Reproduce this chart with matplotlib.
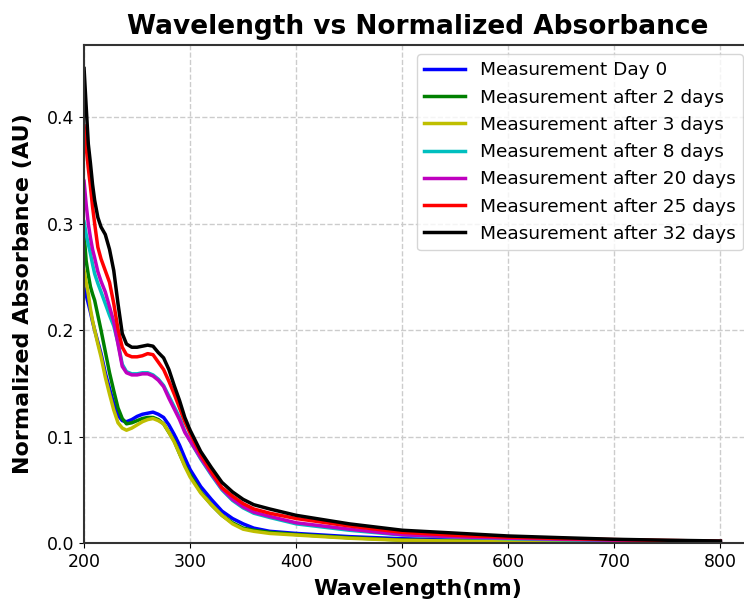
import matplotlib
import matplotlib.pyplot as plt

matplotlib.use("Agg")

wavelength = [200, 202, 204, 206, 208, 210, 213, 216, 220, 224, 228, 232, 236, 240,
              245, 250, 255, 260, 265, 270, 275, 280, 285, 290, 295, 300, 310, 320,
              330, 340, 350, 360, 375, 400, 450, 500, 550, 600, 650, 700, 750, 800]

day_0 = [0.240, 0.233, 0.225, 0.217, 0.208, 0.200, 0.189, 0.178, 0.160, 0.145, 0.131,
         0.120, 0.115, 0.114, 0.116, 0.119, 0.121, 0.122, 0.123, 0.121, 0.118, 0.111,
         0.102, 0.092, 0.080, 0.069, 0.053, 0.041, 0.030, 0.023, 0.018, 0.014, 0.011,
         0.009, 0.006, 0.004, 0.003, 0.002, 0.0015, 0.001, 0.0007, 0.0005]
day_2 = [0.290, 0.265, 0.252, 0.241, 0.234, 0.228, 0.214, 0.200, 0.180, 0.160, 0.143,
         0.127, 0.117, 0.112, 0.113, 0.115, 0.117, 0.118, 0.118, 0.116, 0.112, 0.104,
         0.096, 0.084, 0.073, 0.064, 0.048, 0.036, 0.026, 0.019, 0.014, 0.012, 0.010,
         0.008, 0.005, 0.0028, 0.002, 0.0015, 0.0011, 0.0008, 0.0005, 0.0003]
day_3 = [0.256, 0.245, 0.234, 0.220, 0.209, 0.200, 0.187, 0.175, 0.156, 0.140, 0.125,
         0.113, 0.108, 0.106, 0.108, 0.111, 0.114, 0.116, 0.117, 0.115, 0.112, 0.104,
         0.095, 0.084, 0.072, 0.062, 0.047, 0.036, 0.026, 0.018, 0.013, 0.011, 0.009,
         0.0075, 0.0045, 0.0025, 0.0018, 0.0013, 0.001, 0.0007, 0.0004, 0.0002]
day_8 = [0.302, 0.290, 0.281, 0.272, 0.262, 0.253, 0.244, 0.236, 0.225, 0.214, 0.204,
         0.188, 0.168, 0.161, 0.159, 0.159, 0.160, 0.160, 0.158, 0.154, 0.148, 0.138,
         0.128, 0.118, 0.105, 0.096, 0.079, 0.064, 0.050, 0.040, 0.033, 0.028, 0.024,
         0.018, 0.012, 0.0075, 0.0055, 0.004, 0.003, 0.0022, 0.0016, 0.0012]
day_20 = [0.340, 0.318, 0.300, 0.287, 0.276, 0.268, 0.255, 0.246, 0.236, 0.222, 0.208,
          0.187, 0.166, 0.160, 0.158, 0.158, 0.159, 0.159, 0.157, 0.153, 0.147, 0.136,
          0.126, 0.116, 0.104, 0.096, 0.080, 0.065, 0.051, 0.041, 0.034, 0.029, 0.025,
          0.019, 0.013, 0.0078, 0.0058, 0.0045, 0.0035, 0.0026, 0.002, 0.0015]
day_25 = [0.392, 0.372, 0.352, 0.335, 0.316, 0.300, 0.278, 0.267, 0.256, 0.245, 0.225,
          0.201, 0.184, 0.177, 0.175, 0.175, 0.176, 0.178, 0.177, 0.170, 0.163, 0.152,
          0.140, 0.127, 0.114, 0.103, 0.083, 0.067, 0.052, 0.044, 0.037, 0.032, 0.028,
          0.023, 0.016, 0.010, 0.0072, 0.0055, 0.0042, 0.0032, 0.0024, 0.0017]
day_32 = [0.446, 0.410, 0.375, 0.357, 0.337, 0.322, 0.306, 0.297, 0.290, 0.276, 0.256,
          0.225, 0.197, 0.187, 0.184, 0.184, 0.185, 0.186, 0.185, 0.179, 0.174, 0.163,
          0.148, 0.134, 0.118, 0.106, 0.086, 0.071, 0.057, 0.048, 0.041, 0.036, 0.032,
          0.026, 0.018, 0.012, 0.0093, 0.0066, 0.005, 0.0035, 0.0026, 0.0019]

labels = ["Measurement Day 0", "Measurement after 2 days", "Measurement after 3 days",
          "Measurement after 8 days", "Measurement after 20 days",
          "Measurement after 25 days", "Measurement after 32 days"]
colors = ["b", "g", "y", "c", "m", "r", "k"]
series = [day_0, day_2, day_3, day_8, day_20, day_25, day_32]

fig = plt.figure(figsize=(7.44, 6.01), dpi=100)
ax = fig.add_axes([0.113, 0.0965, 0.898, 0.829])

for values, color, label in zip(series, colors, labels):
    ax.plot(wavelength, values, color=color, linewidth=2.5, label=label)

ax.set_xlim(left=200)
ax.set_ylim(bottom=0)

ax.set_title("Wavelength vs Normalized Absorbance", fontsize=19, fontweight="bold", pad=8)
ax.set_xlabel("Wavelength(nm)", fontsize=16, fontweight="bold", labelpad=6)
ax.set_ylabel("Normalized Absorbance (AU)", fontsize=16, fontweight="bold", labelpad=10)
ax.tick_params(labelsize=12.5)

ax.grid(True, color="#cccccc", linestyle="--", linewidth=1)
for spine in ax.spines.values():
    spine.set_color("#333333")
    spine.set_linewidth(1.5)

ax.legend(loc="upper right", fontsize=13.3, labelspacing=0.5, handlelength=2.2)

fig.savefig("out.png", dpi=100)
plt.close(fig)
